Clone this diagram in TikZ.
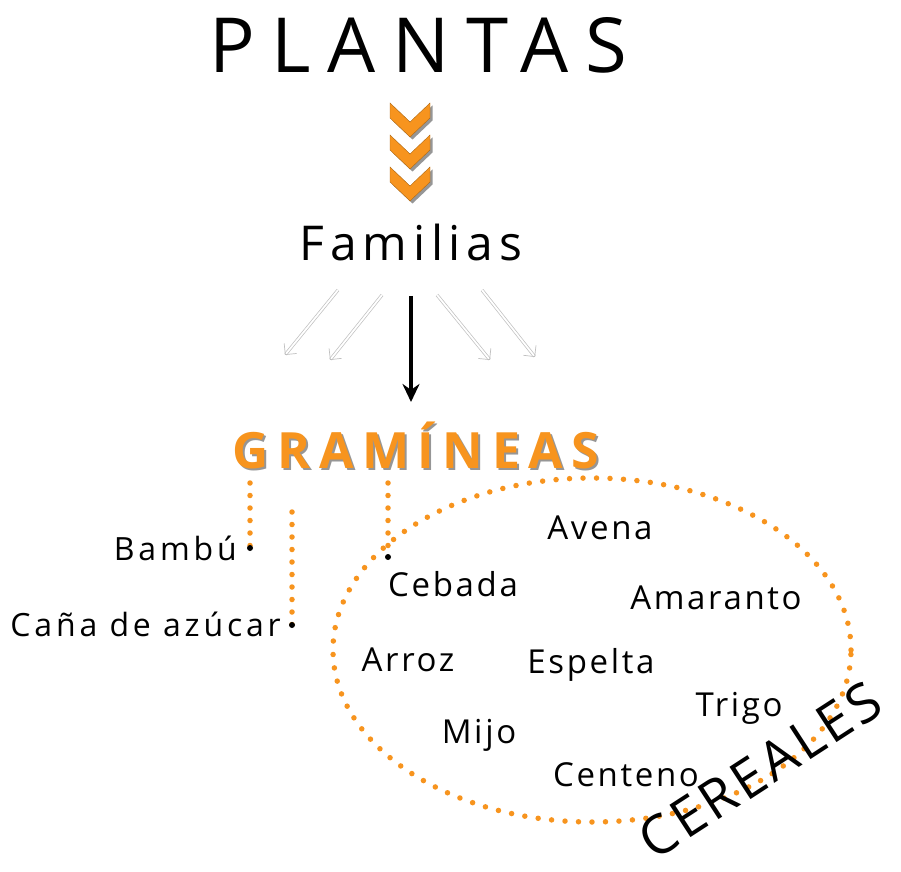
\documentclass[tikz,border=0pt]{standalone}
\usepackage{fontspec}
\setmainfont{Open Sans}
\usetikzlibrary{arrows.meta,shapes,calc}
\definecolor{naranja}{RGB}{247,148,30}
\definecolor{sombra}{RGB}{150,150,150}
\newcommand{\letra}[2]{\fontsize{#1}{#1}\selectfont\addfontfeatures{LetterSpace=#2}}

\begin{document}
\begin{tikzpicture}[x=1pt,y=1pt,
  grano/.style={font=\letra{33}{8}, inner sep=0pt},
  puntos/.style={naranja, line width=5.5pt, line cap=round, dash pattern=on 0pt off 12.5pt},
  flechagris/.style={black!25, double, double distance=1.8pt, line width=0.7pt, -{Straight Barb[length=8pt, width=16pt]}}]
  % Frame of the picture
  \useasboundingbox (0,0) rectangle (901,871);

  % Title
  \node[font=\letra{76}{22}, inner sep=0pt] (plantas) at (418,826) {PLANTAS};

  % Three chevrons under the title
  \def\chevron{(-20,0) -- (0,-19) -- (20,0) -- (20,-15) -- (0,-34) -- (-20,-15) -- cycle}
  \foreach \t in {768,736,704} {
    \fill[sombra, shift={(412.5,\t-2.5)}] \chevron;
    \fill[naranja, draw=naranja!70!black, line width=0.4pt, shift={(410,\t)}] \chevron;
  }

  \node[font=\letra{48}{12}, inner sep=0pt] (familias) at (411,628) {Familias};

  % Faint arrows to the other families
  \foreach \a/\b/\c/\d [count=\n] in {338/581/285/516, 382/576/330/511, 437/576/490/511, 482/581/535/514} {
    \coordinate (g\n a) at (\a,\b);
    \coordinate (g\n b) at (\c,\d);
    \draw[flechagris] (g\n a) -- (g\n b);
  }

  % Grasses
  \node[font=\letra{50}{17}\bfseries, text=sombra, inner sep=0pt] at (418,424) {GRAMÍNEAS};
  \node[font=\letra{50}{17}\bfseries, text=naranja, inner sep=0pt] (gramineas) at (416,426) {GRAMÍNEAS};
  \draw[line width=3.2pt, -{Stealth[length=18pt, width=17pt]}] (411,575) -- (411,469);

  % Dotted branches with end dots
  \coordinate (r1) at (250,388);
  \coordinate (r2) at (292,359);
  \coordinate (r3) at (388,388);
  \coordinate (p1) at (250,323);
  \coordinate (p2) at (292,246);
  \coordinate (p3) at (388,314);
  \draw[puntos] (r1) -- (p1);
  \draw[puntos] (r2) -- (p2);
  \draw[puntos] (r3) -- (p3);
  \foreach \p in {p1,p2,p3}
    \fill (\p) circle (3);
  \node[grano, anchor=east, font=\letra{32}{12}] (bambu) at (237,323) {Bambú};
  \node[grano, anchor=east, font=\letra{32}{12}] (cana) at (281,247) {Caña de azúcar};

  % Cereals in the ellipse
  \draw[puntos, dash pattern=on 0pt off 13.5pt] (592,221) ellipse (259 and 172);
  \node[grano] (avena) at (600,343) {Avena};
  \node[grano] (cebada) at (453,287) {Cebada};
  \node[grano] (amaranto) at (716,273) {Amaranto};
  \node[grano] (arroz) at (408,211) {Arroz};
  \node[grano] (espelta) at (591,206) {Espelta};
  \node[grano] (trigo) at (739,163) {Trigo};
  \node[grano] (mijo) at (479,136) {Mijo};
  \node[grano] (centeno) at (626,96) {Centeno};

  \node[font=\letra{54}{7}, rotate=33, inner sep=0pt] (cereales) at (760,101) {CEREALES};
\end{tikzpicture}
\end{document}
